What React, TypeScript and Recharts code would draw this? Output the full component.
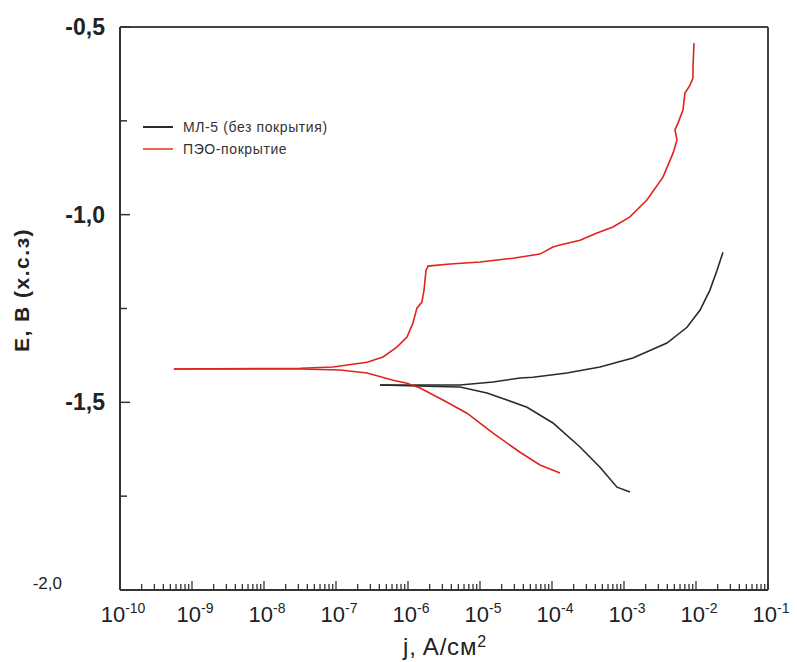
import { LineChart, Line, XAxis, YAxis, ReferenceLine } from "recharts";

// decades on the current-density axis (A/cm2)
const decades = [1e-10, 1e-9, 1e-8, 1e-7, 1e-6, 1e-5, 1e-4, 1e-3, 1e-2, 1e-1];
const minorSteps = [2, 3, 4, 5, 6, 7, 8, 9];

const potentialTicks = [-2, -1.75, -1.5, -1.25, -1, -0.75, -0.5];
const potentialLabels = ["-2,0", "", "-1,5", "", "-1,0", "", "-0,5"];

// ПЭО-покрытие, cathodic branch (from Ecorr outwards)
const coatedCathodicJ = [
  5.6e-10, 6.4e-9, 3.16e-8, 1.14e-7, 2.7e-7, 6.2e-7, 9.7e-7, 1.47e-6, 3.06e-6,
  6.59e-6, 1.52e-5, 3.6e-5, 6.81e-5, 1.29e-4,
];
const coatedCathodicE = [
  -1.411, -1.411, -1.411, -1.414, -1.422, -1.441, -1.449, -1.462, -1.494,
  -1.529, -1.582, -1.633, -1.667, -1.688,
];

// ПЭО-покрытие, anodic branch
const coatedAnodicJ = [
  5.6e-10, 3.2e-8, 9.1e-8, 2.7e-7, 4.5e-7, 7.0e-7, 9.7e-7, 1.17e-6, 1.33e-6,
  1.56e-6, 1.67e-6, 1.78e-6, 1.9e-6, 3.48e-6, 1.0e-5, 2.87e-5, 6.8e-5, 1.03e-4,
  1.29e-4, 2.45e-4, 4.22e-4, 7.03e-4, 1.21e-3, 2.08e-3, 3.48e-3, 4.8e-3,
  5.45e-3, 5.1e-3, 5.62e-3, 6.59e-3, 7.03e-3, 8.26e-3, 9.08e-3, 9.08e-3,
  9.38e-3,
];
const coatedAnodicE = [
  -1.411, -1.409, -1.406, -1.393, -1.379, -1.353, -1.326, -1.289, -1.249,
  -1.233, -1.201, -1.148, -1.137, -1.132, -1.126, -1.116, -1.105, -1.086,
  -1.081, -1.068, -1.049, -1.033, -1.006, -0.961, -0.9, -0.836,
  -0.801, -0.774, -0.756, -0.721, -0.676, -0.655, -0.636, -0.607,
  -0.543,
];

// МЛ-5 (без покрытия), cathodic branch
const bareCathodicJ = [
  4.08e-7, 1.84e-6, 5.27e-6, 1.25e-5, 2.37e-5, 4.5e-5, 1.03e-4, 2.45e-4,
  4.64e-4, 8.0e-4, 1.21e-3,
];
const bareCathodicE = [
  -1.454, -1.457, -1.459, -1.475, -1.494, -1.513, -1.555, -1.619,
  -1.673, -1.726, -1.739,
];

// МЛ-5 (без покрытия), anodic branch
const bareAnodicJ = [
  4.08e-7, 1.84e-6, 5.27e-6, 1.52e-5, 3.6e-5, 5.44e-5, 1.61e-4, 4.64e-4,
  1.33e-3, 3.95e-3, 7.5e-3, 1.14e-2, 1.56e-2, 1.96e-2, 2.37e-2,
];
const bareAnodicE = [
  -1.454, -1.454, -1.454, -1.446, -1.435, -1.433, -1.422, -1.406,
  -1.382, -1.342, -1.3, -1.254, -1.201, -1.148, -1.1,
];

const RED = "#e2231c";
const BLACK = "#2a2a2a";
const AXIS = "#333";

const PLOT_LEFT = 120;
const PLOT_BOTTOM = 590;

const zip = (js: number[], es: number[]) => js.map((j, i) => ({ j, e: es[i] }));

const currentTicks: number[] = [];
decades.forEach((d, i) => {
  currentTicks.push(d);
  if (i < decades.length - 1) minorSteps.forEach((m) => currentTicks.push(m * d));
});

function CurrentTick(props: any) {
  const { x, payload } = props;
  const exp = Math.log10(payload.value);
  const major = Math.abs(exp - Math.round(exp)) < 1e-6;
  return (
    <g>
      <line
        x1={x}
        x2={x}
        y1={PLOT_BOTTOM}
        y2={PLOT_BOTTOM - (major ? 9 : 6)}
        stroke={AXIS}
        strokeWidth={1.3}
      />
      {major && (
        <text x={x + 3} y={622} textAnchor="middle" fontSize={22} fill="#222">
          <tspan>10</tspan>
          <tspan dy={-9} fontSize={14}>
            {Math.round(exp)}
          </tspan>
        </text>
      )}
    </g>
  );
}

function PotentialTick(props: any) {
  const { y, payload } = props;
  const label = potentialLabels[potentialTicks.indexOf(payload.value)];
  const bottom = payload.value === -2;
  return (
    <g>
      {!bottom && (
        <line
          x1={PLOT_LEFT}
          x2={PLOT_LEFT + (label ? 10 : 7)}
          y1={y}
          y2={y}
          stroke={AXIS}
          strokeWidth={1.5}
        />
      )}
      {label && (
        <text
          x={bottom ? 62 : 105}
          y={bottom ? y - 7 : y}
          dy="0.35em"
          textAnchor="end"
          fontSize={bottom ? 17 : 23}
          fontWeight={bottom ? 400 : 700}
          fill="#222"
        >
          {label}
        </text>
      )}
    </g>
  );
}

export default function App() {
  return (
    <div
      style={{
        position: "absolute",
        left: 0,
        top: 0,
        width: 797,
        height: 662,
        background: "#fff",
        fontFamily: '"Liberation Sans", Arial, sans-serif',
      }}
    >
      <LineChart
        width={797}
        height={662}
        margin={{ top: 27, right: 29, bottom: 0, left: 0 }}
        style={{ fontFamily: '"Liberation Sans", Arial, sans-serif' }}
      >
        <XAxis
          dataKey="j"
          type="number"
          scale="log"
          domain={[1e-10, 1e-1]}
          allowDataOverflow
          ticks={currentTicks}
          interval={0}
          tick={<CurrentTick />}
          tickLine={false}
          axisLine={{ stroke: AXIS, strokeWidth: 2 }}
          height={72}
        />
        <YAxis
          type="number"
          domain={[-2, -0.5]}
          allowDataOverflow
          ticks={potentialTicks}
          interval={0}
          tick={<PotentialTick />}
          tickLine={false}
          axisLine={{ stroke: AXIS, strokeWidth: 2 }}
          width={120}
        />
        <ReferenceLine y={-0.5} stroke="#444" strokeWidth={2} />
        <ReferenceLine x={1e-1} stroke="#444" strokeWidth={2} />
        <Line
          data={zip(bareCathodicJ, bareCathodicE)}
          dataKey="e"
          stroke={BLACK}
          strokeWidth={1.6}
          dot={false}
          type="linear"
          isAnimationActive={false}
        />
        <Line
          data={zip(bareAnodicJ, bareAnodicE)}
          dataKey="e"
          stroke={BLACK}
          strokeWidth={1.6}
          dot={false}
          type="linear"
          isAnimationActive={false}
        />
        <Line
          data={zip(coatedCathodicJ, coatedCathodicE)}
          dataKey="e"
          stroke={RED}
          strokeWidth={1.6}
          dot={false}
          type="linear"
          isAnimationActive={false}
        />
        <Line
          data={zip(coatedAnodicJ, coatedAnodicE)}
          dataKey="e"
          stroke={RED}
          strokeWidth={1.6}
          dot={false}
          type="linear"
          isAnimationActive={false}
        />
      </LineChart>

      {/* legend */}
      <div style={{ position: "absolute", left: 143, top: 116, fontSize: 14, color: "#333", letterSpacing: 0.6 }}>
        <div style={{ display: "flex", alignItems: "center", height: 22 }}>
          <span style={{ width: 30, height: 2, background: BLACK, marginRight: 10 }} />
          МЛ-5 (без покрытия)
        </div>
        <div style={{ display: "flex", alignItems: "center", height: 22 }}>
          <span style={{ width: 30, height: 2, background: "#e8664a", marginRight: 10 }} />
          ПЭО-покрытие
        </div>
      </div>

      {/* axis titles */}
      <div
        style={{
          position: "absolute",
          left: 22,
          top: 290,
          transform: "translate(-50%, -50%) rotate(-90deg)",
          whiteSpace: "nowrap",
          fontSize: 21,
          fontWeight: 700,
          letterSpacing: 1.5,
          color: "#222",
        }}
      >
        E, B (x.c.з)
      </div>
      <div
        style={{
          position: "absolute",
          left: 445,
          top: 647,
          transform: "translate(-50%, -50%)",
          whiteSpace: "nowrap",
          fontSize: 24,
          letterSpacing: 0.8,
          color: "#222",
        }}
      >
        j, A/см<sup style={{ fontSize: 16, verticalAlign: 8 }}>2</sup>
      </div>
    </div>
  );
}
